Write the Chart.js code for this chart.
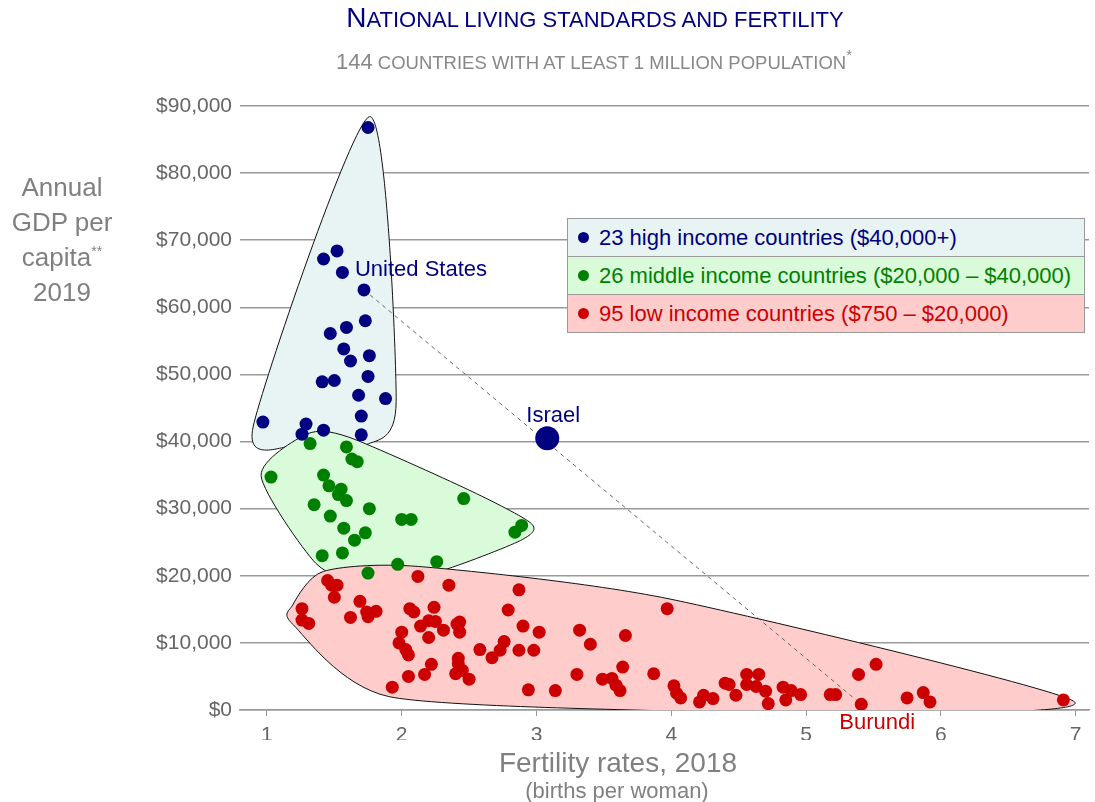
<!DOCTYPE html>
<html>
<head>
<meta charset="utf-8">
<script src="https://cdn.jsdelivr.net/npm/chart.js@4.4.1/dist/chart.umd.min.js"></script>
<style>
  body { margin: 0; background: #fff; }
  #wrap { position: relative; width: 1095px; height: 802px; font-family: "Liberation Sans", Arial, sans-serif; }
  .abs { position: absolute; white-space: nowrap; }
  #title { left: 0; width: 1190px; top: 2px; text-align: center; font-size: 22px; line-height: 32px; color: #000080; text-transform: uppercase; }
  #title .big { font-size: 28px; }
  #subtitle { left: 0; width: 1188px; top: 48px; text-align: center; font-size: 18.5px; line-height: 28px; color: #888; text-transform: uppercase; }
  #subtitle .num { font-size: 22px; }
  #subtitle sup { font-size: 15px; vertical-align: 9px; line-height: 0; }
  #ytitle { left: 0; width: 124px; top: 170px; text-align: center; font-size: 26px; line-height: 35px; color: #808080; }
  #ytitle sup { font-size: 14px; vertical-align: 10px; line-height: 0; }
  #xtitle { left: 0; width: 1236px; top: 747px; text-align: center; font-size: 28px; color: #808080; }
  #xsub { left: 0; width: 1234px; top: 778px; text-align: center; font-size: 22px; color: #808080; }
  #legend { left: 567px; top: 218px; width: 516px; border: 1px solid #999; }
  #legend .row { height: 37px; line-height: 38px; font-size: 22px; padding-left: 10px; border-top: 1px solid #999; }
  #legend .row:first-child { border-top: none; }
  #legend .dot { display: inline-block; width: 11px; height: 11px; border-radius: 50%; margin-right: 10px; vertical-align: 2px; }
</style>
</head>
<body>
<div id="wrap">
  <canvas id="chart" width="1095" height="802"></canvas>
  <div id="title" class="abs"><span class="big">N</span>ational living standards and fertility</div>
  <div id="subtitle" class="abs"><span class="num">144</span> countries with at least 1 million population<sup>*</sup></div>
  <div id="ytitle" class="abs">Annual<br>GDP per<br>capita<sup>**</sup><br>2019</div>
  <div id="xtitle" class="abs">Fertility rates, 2018</div>
  <div id="xsub" class="abs">(births per woman)</div>
  <div id="legend" class="abs"></div>
</div>
<script>
// data
const groupNames = [
    '23 high income countries ($40,000+)',
    '26 middle income countries ($20,000 \u2013 $40,000)',
    '95 low income countries ($750 \u2013 $20,000)'
];
const groupColors = ['#000080', '#008000', '#cc0000'];
const groupFills = ['#e8f4f4', '#d9fbd9', '#ffcccc'];

const highFert = [1.75, 1.52, 1.42, 1.56, 1.72, 1.73, 1.59, 1.47, 1.57, 1.76, 1.62, 1.75, 1.41, 1.50, 1.68, 1.88, 1.70, 0.97, 1.29, 1.42, 1.26, 1.70];
const highGdp = [86800, 68400, 67200, 65200, 62600, 58000, 57000, 56100, 53800, 52800, 52000, 49700, 48900, 49100, 46900, 46400, 43800, 42900, 42600, 41700, 41100, 41000];

const midFert = [1.32, 1.59, 1.63, 1.67, 1.03, 1.42, 1.46, 1.55, 1.53, 1.59, 2.46, 1.35, 1.76, 1.47, 2.00, 2.07, 1.57, 1.73, 2.89, 2.84, 1.65, 1.41, 1.56, 1.97, 2.26, 1.75];
const midGdp = [39700, 39200, 37400, 37000, 34700, 35000, 33400, 32900, 32100, 31200, 31500, 30600, 30000, 28900, 28400, 28400, 27100, 26400, 27500, 26500, 25300, 23000, 23400, 21700, 22100, 20400];

const lowFert = [1.45, 1.48, 1.52, 1.50, 2.12, 2.35, 2.87, 1.26, 1.69, 1.74, 1.81, 1.75, 1.62, 1.26, 1.31,
    2.06, 2.09, 2.24, 2.79, 2.20, 2.25, 2.14, 2.31, 2.41, 2.43, 2.43, 2.20, 2.90, 2.00, 1.98,
    2.03, 2.05, 2.76, 2.73, 2.67, 2.58, 2.87, 2.98, 3.02, 2.22, 2.42, 2.42, 2.45, 2.40, 2.50,
    2.17, 2.05, 1.93, 2.94, 3.14, 3.32, 3.40, 3.66, 3.97, 3.30, 3.49, 3.56, 3.59, 3.62, 3.64,
    3.87, 4.02, 4.04, 4.07, 4.21, 4.24, 4.31, 4.40, 4.43, 4.48, 4.56, 4.65, 4.56, 4.63, 4.70,
    4.72, 4.83, 4.89, 4.96, 4.85, 5.18, 5.22, 5.39, 5.52, 5.41, 5.75, 5.87, 5.92, 6.91];
const lowGdp = [19300, 18600, 18600, 16800, 19900, 18600, 17900, 15100, 16200, 14600, 14700, 13900, 13800, 13400, 12900,
    15100, 14600, 15300, 14900, 13300, 13200, 12500, 11900, 12800, 13100, 11600, 10800, 12500, 11600, 10000,
    9000, 8200, 10200, 8900, 7800, 9000, 8900, 8900, 11600, 6800, 7700, 6900, 5900, 5400, 4600,
    5300, 5000, 3400, 3000, 2900, 11900, 9800, 11100, 15100, 5300, 4600, 4700, 3700, 2900, 6400,
    5400, 3600, 2500, 1800, 1200, 2200, 1700, 4000, 3800, 2200, 5300, 5300, 3800, 3500, 2800,
    950, 3400, 2900, 2300, 1500, 2300, 2300, 5300, 6800, 850, 1800, 2600, 1200, 1500];

// labelled countries: United States, Israel, Burundi
const calloutNames = ['United States', 'Israel', 'Burundi'];
const calloutFert = [1.72, 3.08, 5.41];
const calloutGdp = [62600, 40500, 850];

const xTicks = [1, 2, 3, 4, 5, 6, 7];
const yTicks = [0, 10000, 20000, 30000, 40000, 50000, 60000, 70000, 80000, 90000];

function pairs(xs, ys) {
    return xs.map((v, i) => ({x: v, y: ys[i]}));
}

// legend rows
const legendBox = document.getElementById('legend');
groupNames.forEach((name, i) => {
    const row = document.createElement('div');
    row.className = 'row';
    row.style.background = groupFills[i];
    row.style.color = groupColors[i];
    row.innerHTML = '<span class="dot" style="background:' + groupColors[i] + '"></span>' + name;
    legendBox.appendChild(row);
});

// convex hull of pixel points
function hull(pts) {
    pts = pts.slice().sort((a, b) => a[0] - b[0] || a[1] - b[1]);
    const cross = (o, a, b) => (a[0] - o[0]) * (b[1] - o[1]) - (a[1] - o[1]) * (b[0] - o[0]);
    const lower = [], upper = [];
    for (const p of pts) {
        while (lower.length >= 2 && cross(lower[lower.length - 2], lower[lower.length - 1], p) <= 0) lower.pop();
        lower.push(p);
    }
    for (let i = pts.length - 1; i >= 0; i--) {
        const p = pts[i];
        while (upper.length >= 2 && cross(upper[upper.length - 2], upper[upper.length - 1], p) <= 0) upper.pop();
        upper.push(p);
    }
    upper.pop(); lower.pop();
    return lower.concat(upper);
}

const blobPad = [11, 10, 10];
const blobTension = 0.12;

// smooth blob round each group, drawn under the points
const blobs = {
    id: 'blobs',
    beforeDatasetsDraw(chart) {
        const ctx = chart.ctx;
        const area = chart.chartArea;
        ctx.save();
        ctx.beginPath();
        ctx.rect(area.left - 30, 0, area.right - area.left + 60, area.bottom);
        ctx.clip();
        [0, 1, 2].forEach(g => {
            const meta = chart.getDatasetMeta(g);
            const h = hull(meta.data.map(p => [p.x, p.y]));
            let a2 = 0;
            h.forEach((p, i) => { const q = h[(i + 1) % h.length]; a2 += p[0] * q[1] - q[0] * p[1]; });
            if (a2 < 0) h.reverse();
            const n = h.length, r = blobPad[g], t = blobTension;
            const nrm = h.map((p, i) => {
                const q = h[(i + 1) % n];
                const dx = q[0] - p[0], dy = q[1] - p[1], l = Math.hypot(dx, dy) || 1;
                return [dy / l, -dx / l];
            });
            const o = h.map((p, i) => {
                const a = nrm[(i - 1 + n) % n], b = nrm[i];
                const vx = a[0] + b[0], vy = a[1] + b[1];
                const l = Math.hypot(vx, vy) || 1;
                return [p[0] + r * vx / l, p[1] + r * vy / l];
            });
            ctx.beginPath();
            ctx.moveTo(o[0][0], o[0][1]);
            for (let i = 0; i < n; i++) {
                const p0 = o[(i - 1 + n) % n], p1 = o[i], p2 = o[(i + 1) % n], p3 = o[(i + 2) % n];
                ctx.bezierCurveTo(
                    p1[0] + (p2[0] - p0[0]) * t, p1[1] + (p2[1] - p0[1]) * t,
                    p2[0] - (p3[0] - p1[0]) * t, p2[1] - (p3[1] - p1[1]) * t,
                    p2[0], p2[1]);
            }
            ctx.closePath();
            ctx.fillStyle = groupFills[g];
            ctx.fill();
            ctx.lineWidth = 1;
            ctx.strokeStyle = '#111';
            ctx.stroke();
        });
        ctx.restore();
    },
    afterDatasetsDraw(chart) {
        const ctx = chart.ctx;
        const xs = chart.scales.x, ys = chart.scales.y;
        const style = [
            {dx: -9, dy: -20, align: 'left', color: '#000080'},
            {dx: 6, dy: -22, align: 'center', color: '#000080'},
            {dx: 16, dy: 19, align: 'center', color: '#cc0000'}
        ];
        ctx.save();
        ctx.font = '22px "Liberation Sans", Arial, sans-serif';
        ctx.textBaseline = 'middle';
        calloutNames.forEach((name, i) => {
            const px = xs.getPixelForValue(calloutFert[i]);
            const py = ys.getPixelForValue(calloutGdp[i]);
            ctx.fillStyle = style[i].color;
            ctx.textAlign = style[i].align;
            ctx.fillText(name, px + style[i].dx, py + style[i].dy);
        });
        ctx.restore();
    }
};

new Chart(document.getElementById('chart'), {
    type: 'scatter',
    data: {
        datasets: [
            {label: groupNames[0], data: pairs(highFert, highGdp), backgroundColor: groupColors[0], pointRadius: 6.5, borderWidth: 0, order: 2},
            {label: groupNames[1], data: pairs(midFert, midGdp), backgroundColor: groupColors[1], pointRadius: 6.5, borderWidth: 0, order: 2},
            {label: groupNames[2], data: pairs(lowFert, lowGdp), backgroundColor: groupColors[2], pointRadius: 6.5, borderWidth: 0, order: 2},
            {label: calloutNames[1], data: [{x: calloutFert[1], y: calloutGdp[1]}], backgroundColor: groupColors[0], pointRadius: 12, borderWidth: 0, order: 1},
            {
                type: 'line',
                data: [{x: calloutFert[0], y: calloutGdp[0]}, {x: calloutFert[2], y: calloutGdp[2]}],
                borderColor: '#666', borderWidth: 1, borderDash: [4, 4],
                pointRadius: 0, fill: false, order: 10
            }
        ]
    },
    options: {
        responsive: false,
        animation: false,
        devicePixelRatio: 1,
        layout: {autoPadding: false, padding: {left: 0, right: 6, top: 106, bottom: 62}},
        plugins: {legend: {display: false}, tooltip: {enabled: false}},
        scales: {
            x: {
                type: 'linear', min: 0.8, max: 7.1,
                afterBuildTicks: s => { s.ticks = xTicks.map(v => ({value: v})); },
                afterFit: s => { s.height = 30; },
                grid: {drawOnChartArea: false, drawTicks: true, tickLength: 6, color: '#999'},
                border: {color: '#999', width: 1.5},
                ticks: {color: '#666', padding: 0, font: {size: 21, lineHeight: 1.8, family: '"Liberation Sans", Arial, sans-serif'}}
            },
            y: {
                min: 0, max: 90000,
                afterBuildTicks: s => { s.ticks = yTicks.map(v => ({value: v})); },
                afterFit: s => { s.width = 240; },
                grid: {color: '#999', lineWidth: 1.5, drawTicks: false},
                border: {display: false},
                ticks: {
                    color: '#666', padding: 8,
                    font: {size: 21, family: '"Liberation Sans", Arial, sans-serif'},
                    callback: v => '$' + v.toLocaleString('en-US')
                }
            }
        }
    },
    plugins: [blobs]
});
</script>
</body>
</html>
